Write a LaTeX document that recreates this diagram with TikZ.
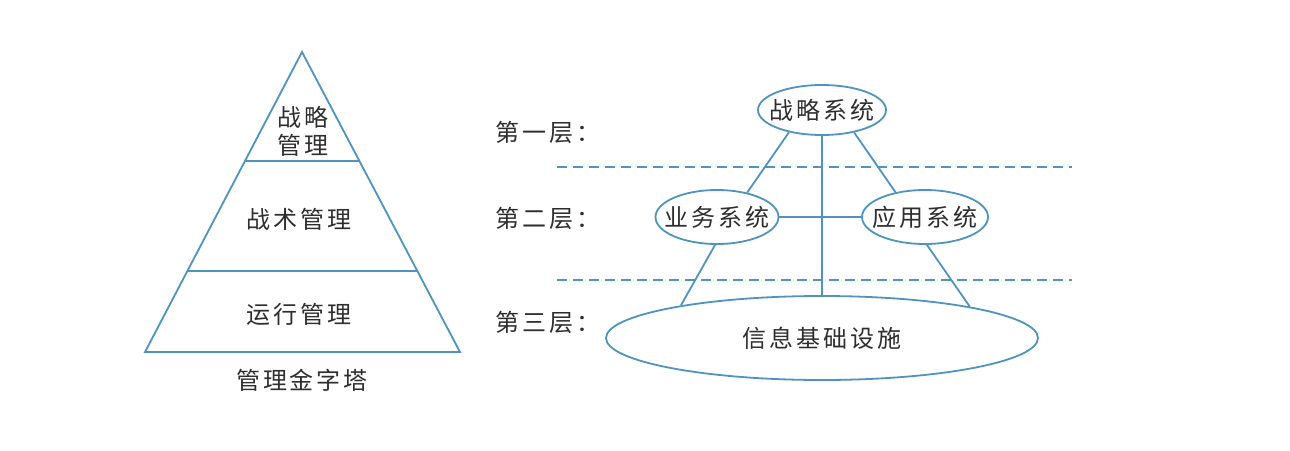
\documentclass[tikz,border=0pt]{standalone}
\usepackage{fontspec}
\setmainfont[LetterSpace=12]{Noto Sans CJK SC}
\usetikzlibrary{shapes.geometric,calc}
\definecolor{ln}{HTML}{4F93BF}
\definecolor{tx}{HTML}{2E2E2E}
\begin{document}
\begin{tikzpicture}[x=0.5pt,y=-0.5pt,
  line width=0.9pt,
  every node/.style={text=tx,font=\fontsize{12pt}{15pt}\selectfont},
  sysnode/.style={ellipse,draw=ln,inner ysep=0pt,inner xsep=-6pt},
  lbl/.style={anchor=west,inner sep=0pt},
  dashline/.style={draw=ln,dash pattern=on 5pt off 3pt},
  conn/.style={draw=ln}]
\useasboundingbox (0,0) rectangle (1290,450);
% pyramid
\coordinate (apex) at (302,52);
\coordinate (bl) at (145,352);
\coordinate (br) at (460,352);
\draw[ln] (apex) -- (bl) -- (br) -- cycle;
\coordinate (l1a) at ($(apex)!0.3633!(bl)$);
\coordinate (l1b) at ($(apex)!0.3633!(br)$);
\coordinate (l2a) at ($(apex)!0.73!(bl)$);
\coordinate (l2b) at ($(apex)!0.73!(br)$);
\draw[ln] (l1a) -- (l1b);
\draw[ln] (l2a) -- (l2b);
\node[align=center,font=\fontsize{12pt}{14pt}\selectfont] (p1) at (303,131) {战略\\管理};
\node (p2) at (299,219) {战术管理};
\node (p3) at (299,314) {运行管理};
\node (pcap) at (302,380) {管理金字塔};
% layers
\node[lbl] (lay1) at (495,132) {第一层：};
\node[lbl] (lay2) at (495,218) {第二层：};
\node[lbl] (lay3) at (495,322) {第三层：};
\coordinate (d1a) at (557,167);
\coordinate (d1b) at (1072,167);
\coordinate (d2a) at (557,280);
\coordinate (d2b) at (1072,280);
\draw[dashline] (d1a) -- (d1b);
\draw[dashline] (d2a) -- (d2b);
% systems
\node[sysnode,minimum width=64pt,minimum height=25pt] (zl) at (822,110) {战略系统};
\node[sysnode,minimum width=61.5pt,minimum height=27pt] (yw) at (717,217) {业务系统};
\node[sysnode,minimum width=63pt,minimum height=27pt] (yy) at (925,217) {应用系统};
\node[sysnode,inner xsep=0pt,minimum width=216pt,minimum height=42pt] (jc) at (822,338) {信息基础设施};
\draw[conn] (zl.214) -- (yw.39);
\draw[conn] (zl.325) -- (yy.140);
\draw[conn] (zl.south) -- (jc.north);
\draw[conn] (yw.east) -- (yy.west);
\draw[conn] (yw.266) -- (jc.167.7);
\draw[conn] (yy.274) -- (jc.12.8);
\end{tikzpicture}
\end{document}
